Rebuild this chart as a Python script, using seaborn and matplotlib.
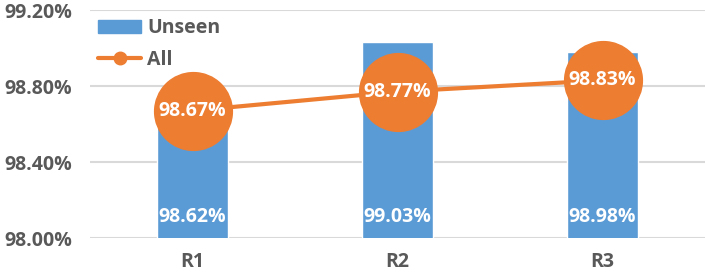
import matplotlib
matplotlib.use("Agg")
import matplotlib.pyplot as plt
from matplotlib.lines import Line2D
from matplotlib.patches import Patch
import pandas as pd
import seaborn as sns

# chart data
rounds = ["R1", "R2", "R3"]
unseen = [98.62, 99.03, 98.98]
all_vals = [98.67, 98.77, 98.83]
yticks = [98.00, 98.40, 98.80, 99.20]

blue = "#5B9BD5"
orange = "#ED7D31"
gray = "#595959"

sns.set_style("white")
plt.rcParams["font.family"] = ["Open Sans", "DejaVu Sans"]
plt.rcParams["font.weight"] = "bold"

df = pd.DataFrame({"Round": rounds, "Unseen": unseen, "All": all_vals})

fig = plt.figure(figsize=(7.06, 2.72), dpi=100)
ax = fig.add_axes([90 / 706, 1 - 238 / 272, 615 / 706, 228 / 272])

sns.barplot(data=df, x="Round", y="Unseen", color=blue, width=0.35,
            saturation=1, ax=ax, zorder=2)
ax.plot(range(len(rounds)), df["All"], color=orange, lw=3, marker="o",
        markersize=56, zorder=3)

fs = 14
for i, v in enumerate(unseen):
    ax.text(i, 98.11, f"{v:.2f}%", color="white", ha="center", va="center",
            fontsize=fs, fontweight="bold", zorder=4)
for i, v in enumerate(all_vals):
    ax.text(i, v, f"{v:.2f}%", color="white", ha="center", va="center",
            fontsize=fs, fontweight="bold", zorder=4)

ax.set_ylim(98.0, 99.2)
ax.set_xlim(-0.5, 2.5)
ax.set_yticks(yticks)
ax.set_yticklabels([f"{t:.2f}%" for t in yticks])
ax.yaxis.grid(True, color="#D9D9D9", lw=1.5, zorder=0)
ax.set_axisbelow(True)
for s in ax.spines.values():
    s.set_visible(False)
ax.tick_params(axis="both", length=0, labelsize=fs, labelcolor=gray)
ax.tick_params(axis="x", pad=10)
ax.tick_params(axis="y", pad=13)
for lab in ax.get_xticklabels() + ax.get_yticklabels():
    lab.set_fontweight("bold")
ax.set_xlabel("")
ax.set_ylabel("")

handles = [Patch(color=blue, label="Unseen"),
           Line2D([0], [0], color=orange, lw=3, marker="o", markersize=9, label="All")]
leg = ax.legend(handles=handles, loc="upper left", bbox_to_anchor=(-0.015, 1.04),
                frameon=False, fontsize=fs, handlelength=2.2, labelspacing=0.6,
                handletextpad=0.3)
for t in leg.get_texts():
    t.set_color(gray)
    t.set_fontweight("bold")

fig.savefig("out.png", dpi=100)
